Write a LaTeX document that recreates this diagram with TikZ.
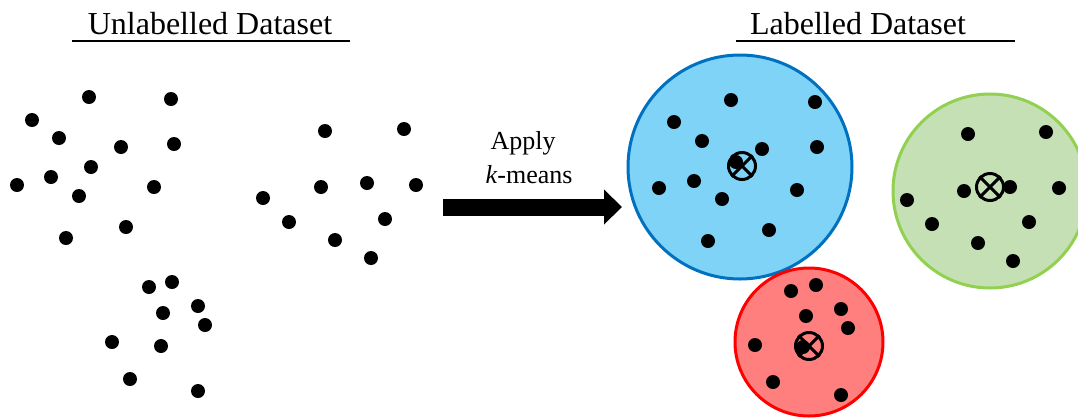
\documentclass[tikz,border=0pt]{standalone}
\usepackage{fontspec}
\setmainfont{Liberation Serif}
\usetikzlibrary{arrows.meta}
\definecolor{blueFill}{HTML}{7FD3F7}
\definecolor{blueLine}{HTML}{0070C0}
\definecolor{redFill}{HTML}{FF7F7F}
\definecolor{redLine}{HTML}{FF0000}
\definecolor{greenFill}{HTML}{C5E0B4}
\definecolor{greenLine}{HTML}{92D050}
\tikzset{
  title/.style={font=\fontsize{16}{19}\selectfont, anchor=base},
  label/.style={font=\fontsize{13}{16}\selectfont, anchor=base},
  centroid/.style={circle, draw, line width=1.5pt, inner sep=0pt, minimum size=13.5pt},
}

\begin{document}
\begin{tikzpicture}[x=0.5pt,y=-0.5pt]
        \useasboundingbox (0,0) rectangle (1078,419);

        \node[title] (unlabelled) at (210,34) {Unlabelled Dataset};
        \node[title] (labelled) at (858,34) {Labelled Dataset};
        \draw[line width=0.8pt] (72,41) -- (350,41);
        \draw[line width=0.8pt] (736,41) -- (1015,41);

        \foreach \x/\y in {89/97,171/99,32/120,59/138,121/147,174/144,91/167,51/177,17/185,79/196,154/187,66/238,126/227,
                           325/131,404/129,321/187,367/183,416/185,263/198,289/222,385/219,335/240,371/258,
                           149/287,172/282,163/313,198/306,205/325,112/342,161/346,130/379,198/391}
            \fill (\x,\y) circle (7);

        \coordinate (arrowtail) at (443,207);
        \coordinate (arrowtip) at (622,207);
        \draw[line width=8.5pt, -{Triangle[length=9pt,width=17pt]}] (arrowtail) -- (arrowtip);
        \node[label] (apply) at (523,149) {Apply};
        \node[label] (kmeans) at (529,183) {\textit{k}-means};

        \draw[fill=blueFill, draw=blueLine, line width=1.5pt] (740,167) circle (112);
        \draw[fill=redFill, draw=redLine, line width=1.5pt] (809,342) circle (74);
        \draw[fill=greenFill, draw=greenLine, line width=1.5pt] (990,191) circle (97);

        \foreach \x/\y in {731/100,815/102,674/122,702/141,762/149,817/147,659/188,694/181,722/199,797/190,769/230,708/241,736/162,
                           791/291,816/285,806/316,841/309,848/328,755/345,773/382,841/395,803/347,
                           968/134,1046/132,964/191,1010/187,1059/188,907/200,932/224,1029/222,978/243,1013/261}
            \fill (\x,\y) circle (7);

        \node[centroid] (cblue) at (742,166) {};
        \node[centroid] (cred) at (809,346) {};
        \node[centroid] (cgreen) at (990,187) {};
        \foreach \c in {cblue,cred,cgreen} {
            \draw[line width=1.5pt] (\c.north west) -- (\c.south east);
            \draw[line width=1.5pt] (\c.north east) -- (\c.south west);
        }

    \end{tikzpicture}
\end{document}
